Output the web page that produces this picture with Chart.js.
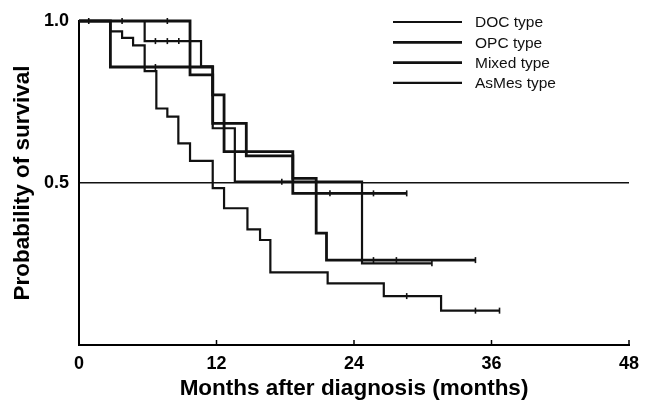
<!DOCTYPE html>
<html>
<head>
<meta charset="utf-8">
<script src="https://cdn.jsdelivr.net/npm/chart.js@4.4.1/dist/chart.umd.min.js"></script>
<style>
  html, body { margin: 0; padding: 0; background: #fff; }
  #wrap { width: 652px; height: 402px; }
</style>
</head>
<body>
<div id="wrap"><canvas id="grafico"></canvas></div>
<script>
// Kaplan-Meier curves (months, survival)
var docTimes = [0, 2.74, 3.76, 4.72, 5.73, 6.75, 7.71, 8.67, 9.69, 11.67, 12.66, 14.7, 15.8, 16.7, 21.7, 26.6, 31.6, 36.7];
var docSurv  = [1.0, 0.968, 0.948, 0.925, 0.845, 0.730, 0.705, 0.622, 0.568, 0.484, 0.422, 0.357, 0.324, 0.224, 0.190, 0.151, 0.106, 0.106];
var docCensT = [28.6, 34.6, 36.7];
var docCensS = [0.151, 0.106, 0.106];

var opcTimes = [0, 2.74, 11.67, 12.66, 18.66, 28.6];
var opcSurv  = [1.0, 0.858, 0.772, 0.597, 0.468, 0.468];
var opcCensT = [6.67, 21.9, 25.7, 28.6];
var opcCensS = [0.858, 0.468, 0.468, 0.468];

var mixTimes = [0, 9.69, 11.67, 14.6, 18.66, 20.7, 21.6, 34.6];
var mixSurv  = [1.0, 0.834, 0.684, 0.584, 0.514, 0.345, 0.262, 0.262];
var mixCensT = [0.85, 3.76, 7.71, 25.7, 27.7, 34.6];
var mixCensS = [1.0, 1.0, 1.0, 0.262, 0.262, 0.262];

var asmTimes = [0, 5.73, 10.65, 11.67, 13.6, 24.7, 30.8];
var asmSurv  = [1.0, 0.938, 0.860, 0.669, 0.504, 0.252, 0.252];
var asmCensT = [6.67, 7.71, 8.71, 17.7, 30.8];
var asmCensS = [0.938, 0.938, 0.938, 0.504, 0.252];

var groupNames = ['DOC type', 'OPC type', 'Mixed type', 'AsMes type'];
var xTicks = [0, 12, 24, 36, 48];
var yTicks = [0.5, 1.0];

var fonte = "'Liberation Sans', Arial, sans-serif";

function pontos(t, s) {
  return t.map(function (x, i) { return { x: x, y: s[i] }; });
}

function curva(nome, t, s, larg) {
  return {
    type: 'line', label: nome, data: pontos(t, s),
    stepped: 'before', borderColor: '#111', borderWidth: larg,
    pointRadius: 0, fill: false, clip: false, curva: true
  };
}

function censura(t, s) {
  return {
    type: 'scatter', label: '', data: pontos(t, s),
    pointStyle: 'line', rotation: 90, pointRadius: 3,
    borderColor: '#111', borderWidth: 1.6, clip: false
  };
}

// legenda desenhada a mão no canto direito
var legendaPlugin = {
  id: 'legendaKM',
  afterDraw: function (chart) {
    var ctx = chart.ctx;
    ctx.save();
    var curvas = chart.data.datasets.filter(function (d) { return d.curva; });
    curvas.forEach(function (d, i) {
      var y = 22 + i * 20.3;
      ctx.strokeStyle = '#111';
      ctx.lineWidth = d.borderWidth;
      ctx.beginPath();
      ctx.moveTo(393, y);
      ctx.lineTo(462, y);
      ctx.stroke();
      ctx.fillStyle = '#111';
      ctx.font = '15.5px ' + fonte;
      ctx.textBaseline = 'middle';
      ctx.fillText(d.label, 475, y + 1);
    });
    // pequenos ticks internos no eixo x
    var xs = chart.scales.x, yb = chart.chartArea.bottom;
    ctx.strokeStyle = '#000';
    ctx.lineWidth = 1.5;
    xTicks.slice(1).forEach(function (v) {
      var px = xs.getPixelForValue(v);
      ctx.beginPath();
      ctx.moveTo(px, yb);
      ctx.lineTo(px, yb - 5);
      ctx.stroke();
    });
    ctx.restore();
  }
};

var ctx1 = document.getElementById('grafico').getContext('2d');
new Chart(ctx1, {
  data: {
    datasets: [
      curva(groupNames[0], docTimes, docSurv, 2.2),
      curva(groupNames[1], opcTimes, opcSurv, 2.8),
      curva(groupNames[2], mixTimes, mixSurv, 2.8),
      curva(groupNames[3], asmTimes, asmSurv, 2.2),
      censura(docCensT, docCensS),
      censura(opcCensT, opcCensS),
      censura(mixCensT, mixCensS),
      censura(asmCensT, asmCensS)
    ]
  },
  options: {
    responsive: true,
    maintainAspectRatio: false,
    animation: false,
    layout: { padding: { left: 0, right: 23, top: 21, bottom: 0 } },
    plugins: { legend: { display: false }, tooltip: { enabled: false } },
    scales: {
      x: {
        type: 'linear', min: 0, max: 48,
        afterFit: function (s) { s.height = 57; },
        afterBuildTicks: function (s) { s.ticks = xTicks.map(function (v) { return { value: v }; }); },
        grid: { drawOnChartArea: false, drawTicks: false },
        border: { color: '#000', width: 2 },
        ticks: { color: '#000', padding: 8, font: { family: fonte, size: 18, weight: 'bold' } },
        title: {
          display: true, text: 'Months after diagnosis (months)', color: '#000',
          font: { family: fonte, size: 22.5, weight: 'bold' }, padding: { top: 0, bottom: 0 }
        }
      },
      y: {
        type: 'linear', min: 0, max: 1,
        afterFit: function (s) { s.width = 79; },
        afterBuildTicks: function (s) {
          s.ticks = [0].concat(yTicks).map(function (v) { return { value: v }; });
        },
        grid: {
          drawTicks: false,
          lineWidth: 1.5,
          color: function (c) { return c.tick && c.tick.value === 0.5 ? '#111' : 'rgba(0,0,0,0)'; }
        },
        border: { color: '#000', width: 2 },
        ticks: {
          color: '#000', padding: 10, font: { family: fonte, size: 18, weight: 'bold' },
          callback: function (v) { return v === 0 ? '' : v.toFixed(1); }
        },
        title: {
          display: true, text: 'Probability of survival', color: '#000',
          font: { family: fonte, size: 22.5, weight: 'bold' }, padding: { top: 9, bottom: 0 }
        }
      }
    }
  },
  plugins: [legendaPlugin]
});
</script>
</body>
</html>
